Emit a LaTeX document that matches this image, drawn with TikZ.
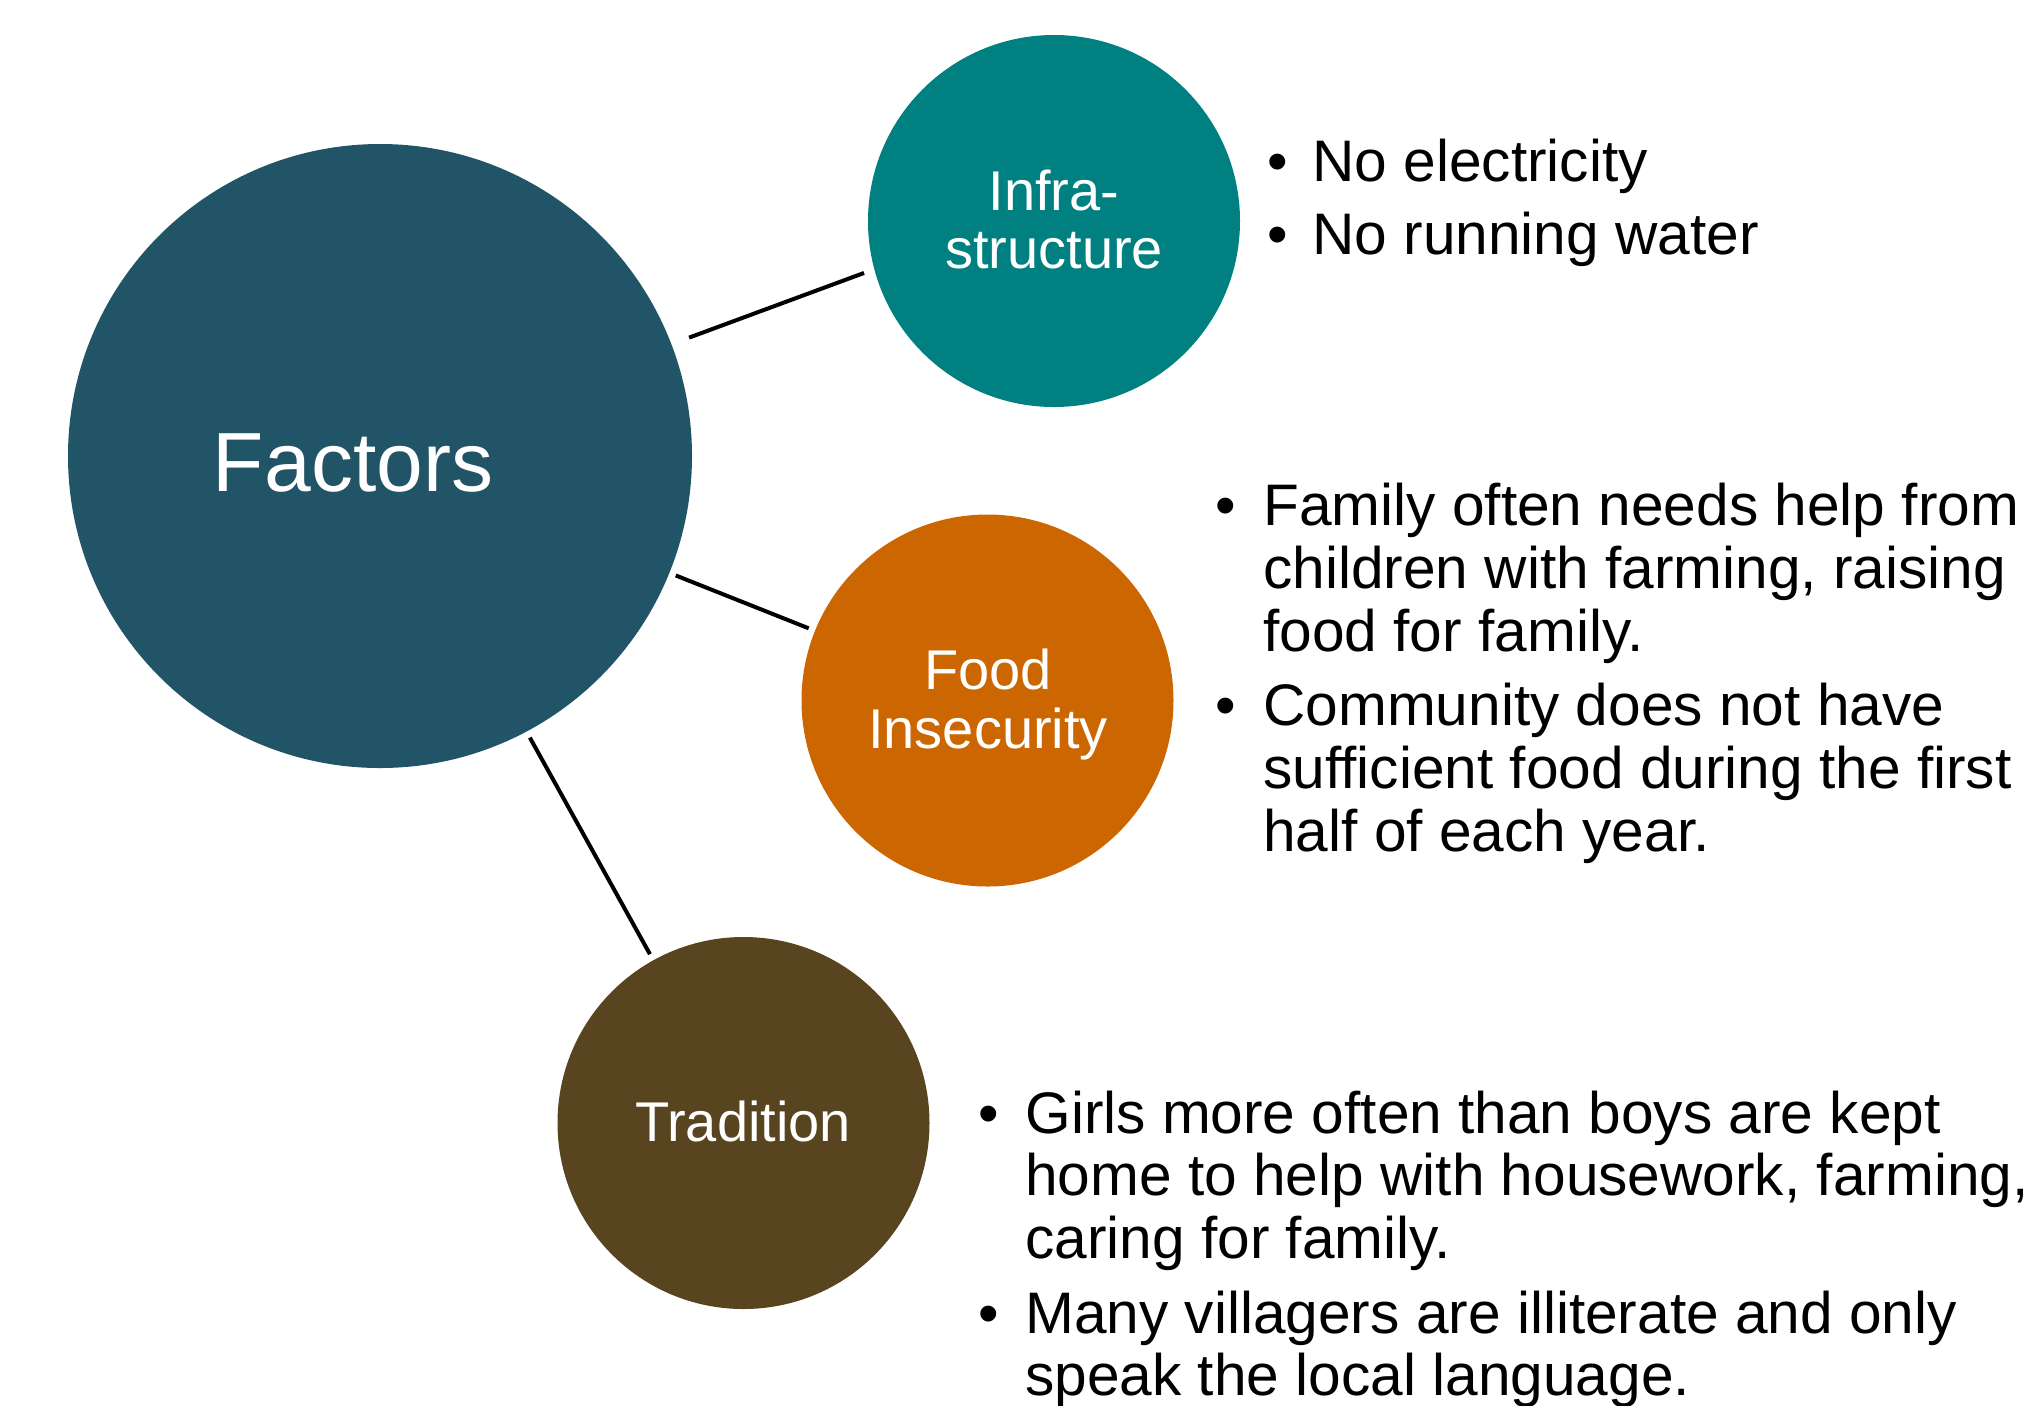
\documentclass[tikz,border=0pt]{standalone}
\usepackage{fontspec}
\setmainfont{Liberation Sans}
\definecolor{factorblue}{RGB}{33,84,102}
\definecolor{infrateal}{RGB}{0,128,128}
\definecolor{foodorange}{RGB}{204,102,0}
\definecolor{tradbrown}{RGB}{88,68,30}

\begin{document}
\begin{tikzpicture}[x=0.5pt,y=-0.5pt,
  hub/.style={circle, fill=#1, draw=none, inner sep=0pt, outer sep=0pt},
  conn/.style={line width=2pt, black},
  bigtext/.style={text=white, font=\fontsize{42}{50}\selectfont, anchor=base, inner sep=0pt},
  circtext/.style={text=white, font=\fontsize{28}{30}\selectfont, anchor=base, inner sep=0pt},
  bulletdot/.style={font=\fontsize{29.3}{35}\selectfont, anchor=base, inner sep=0pt},
  itemline/.style={font=\fontsize{29.3}{35}\selectfont, anchor=base west, inner sep=0pt},
]
\useasboundingbox (0,0) rectangle (2040,1405);
\clip (0,0) rectangle (2040,1405);

% circles
\node[hub=factorblue, minimum size=312pt] (F) at (380,456) {};
\node[hub=infrateal, minimum size=186pt] (I) at (1054,221) {};
\node[hub=foodorange, minimum size=186pt] (Fo) at (987.5,700.5) {};
\node[hub=tradbrown, minimum size=186pt] (T) at (743.5,1123) {};

% circle labels
\node[bigtext] (Ftxt) at (353,491) {Factors};
\node[circtext] (Itxt1) at (1054,210) {Infra-};
\node[circtext] (Itxt2) at (1054,268) {structure};
\node[circtext] (Fotxt1) at (988,689) {Food};
\node[circtext] (Fotxt2) at (988,748) {Insecurity};
\node[circtext] (Ttxt) at (743,1141) {Tradition};

% connectors
\draw[conn, shorten <=9.5pt, shorten >=5.5pt] (F.21) -- (I.195);
\draw[conn, shorten <=3.5pt, shorten >=3.4pt] (F.338) -- (Fo.158);
\draw[conn, shorten <=3.5pt, shorten >=3.5pt] (F.298.6) -- (T.119);

% infrastructure bullets
\node[bulletdot] (ib1) at (1278,181) {•};
\node[itemline] (il1) at (1312,181) {No electricity};
\node[bulletdot] (ib2) at (1278,254) {•};
\node[itemline] (il2) at (1312,254) {No running water};

% food insecurity bullets
\node[bulletdot] (fb1) at (1226,525) {•};
\node[itemline] (fl1) at (1263,525) {Family often needs help from};
\node[itemline] (fl2) at (1263,588) {children with farming, raising};
\node[itemline] (fl3) at (1263,651) {food for family.};
\node[bulletdot] (fb2) at (1226,725) {•};
\node[itemline] (fl4) at (1263,725) {Community does not have};
\node[itemline] (fl5) at (1263,788) {sufficient food during the first};
\node[itemline] (fl6) at (1263,851) {half of each year.};

% tradition bullets
\node[bulletdot] (tb1) at (989,1133) {•};
\node[itemline] (tl1) at (1025,1133) {Girls more often than boys are kept};
\node[itemline] (tl2) at (1025,1195) {home to help with housework, farming,};
\node[itemline] (tl3) at (1025,1258) {caring for family.};
\node[bulletdot] (tb2) at (989,1333) {•};
\node[itemline] (tl4) at (1025,1333) {Many villagers are illiterate and only};
\node[itemline] (tl5) at (1025,1395) {speak the local language.};
\end{tikzpicture}
\end{document}
